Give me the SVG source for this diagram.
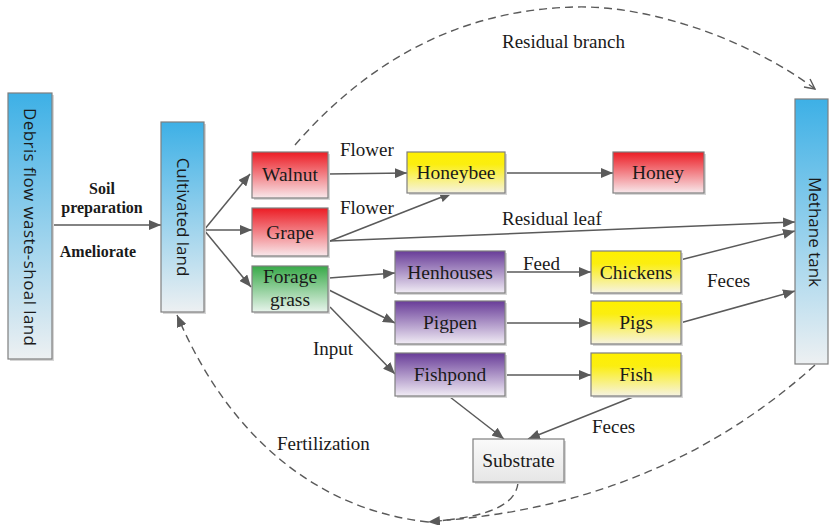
<svg xmlns="http://www.w3.org/2000/svg" width="829" height="525" viewBox="0 0 829 525">
  <style>
    .box { stroke: #7f7f7f; stroke-width: 1.2; }
    .sh { fill: #d6d6d6; }
    .lbl { font-size: 19.5px; fill: #1a1a1a; text-anchor: middle; }
    .note { font-size: 19px; fill: #1a1a1a; }
    .bold { font-size: 16px; font-weight: bold; fill: #1a1a1a; text-anchor: middle; }
    .vert { font-size: 17px; fill: #1a1a1a; text-anchor: middle; dominant-baseline: central; }
    .link { fill: none; stroke: #5a5a5a; stroke-width: 1.5; marker-end: url(#arr); }
    .dash { fill: none; stroke: #5a5a5a; stroke-width: 1.4; stroke-dasharray: 8 5; }
  </style>
  <defs>
    <linearGradient id="gBlue" x1="0" y1="0" x2="0" y2="1">
      <stop offset="0" stop-color="#3db0e6"/>
      <stop offset="1" stop-color="#edf0f2"/>
    </linearGradient>
    <linearGradient id="gRed" x1="0" y1="0" x2="0" y2="1">
      <stop offset="0" stop-color="#ec1c24"/>
      <stop offset="1" stop-color="#f8e8eb"/>
    </linearGradient>
    <linearGradient id="gYellow" x1="0" y1="0" x2="0" y2="1">
      <stop offset="0" stop-color="#fff000"/>
      <stop offset="0.3" stop-color="#fbee10"/>
      <stop offset="1" stop-color="#f6f3e2"/>
    </linearGradient>
    <linearGradient id="gPurple" x1="0" y1="0" x2="0" y2="1">
      <stop offset="0" stop-color="#683c98"/>
      <stop offset="1" stop-color="#f1ecf5"/>
    </linearGradient>
    <linearGradient id="gGreen" x1="0" y1="0" x2="0" y2="1">
      <stop offset="0" stop-color="#38a948"/>
      <stop offset="1" stop-color="#e8f4ec"/>
    </linearGradient>
    <linearGradient id="gGray" x1="0" y1="0" x2="0" y2="1">
      <stop offset="0" stop-color="#fafafa"/>
      <stop offset="1" stop-color="#e6e6e6"/>
    </linearGradient>
    <marker id="arr" viewBox="0 0 12 10" refX="12" refY="5" markerWidth="12" markerHeight="10" markerUnits="userSpaceOnUse" orient="auto">
      <path d="M0,0 L12,5 L0,10 z" fill="#5a5a5a"/>
    </marker>
    <marker id="open" viewBox="0 0 12 12" refX="11" refY="6" markerWidth="12" markerHeight="12" markerUnits="userSpaceOnUse" orient="auto">
      <path d="M1,1 L11,6 L1,11" fill="none" stroke="#5a5a5a" stroke-width="1.4"/>
    </marker>
  </defs>

  <!-- connectors -->
  <g id="connectors">
    <line class="link" x1="52" y1="225" x2="161" y2="225"/>
    <line class="link" x1="204" y1="230" x2="250" y2="174"/>
    <line class="link" x1="204" y1="230" x2="252" y2="230"/>
    <line class="link" x1="204" y1="230" x2="251" y2="287"/>
    <line class="link" x1="328" y1="174" x2="407" y2="173"/>
    <line class="link" x1="330" y1="241" x2="452" y2="193"/>
    <line class="link" x1="330" y1="241" x2="795" y2="222"/>
    <line class="link" x1="505" y1="173" x2="613" y2="173"/>
    <line class="link" x1="329" y1="278" x2="395" y2="273"/>
    <line class="link" x1="329" y1="290" x2="395" y2="323"/>
    <line class="link" x1="330" y1="307" x2="395" y2="374"/>
    <line class="link" x1="505" y1="272" x2="591" y2="272"/>
    <line class="link" x1="505" y1="323" x2="591" y2="323"/>
    <line class="link" x1="505" y1="375" x2="591" y2="375"/>
    <line class="link" x1="680" y1="260" x2="795" y2="231"/>
    <line class="link" x1="680" y1="323" x2="795" y2="291"/>
    <line class="link" x1="450" y1="397" x2="504" y2="439"/>
    <line class="link" x1="633" y1="397" x2="528" y2="439"/>

    <!-- residual branch arc -->
    <path class="dash" marker-end="url(#open)" d="M295,145 C360,70 450,10 575,7 C650,5 750,40 815,89"/>
    <!-- fertilization return paths -->
    <path class="dash" d="M815,365 Q660,505 436,521"/>
    <path class="dash" marker-end="url(#arr)" d="M518,483 C515,510 475,518 428,522"/>
    <path class="dash" marker-end="url(#arr)" d="M428,522 C320,510 230,440 177,315"/>
  </g>

  <!-- labels on connectors -->
  <g id="edge-labels" font-family="Liberation Serif, Times New Roman, serif">
    <text class="bold" x="102" y="194">Soil</text>
    <text class="bold" x="102" y="213">preparation</text>
    <text class="bold" x="98" y="257">Ameliorate</text>
    <text class="note" x="340" y="156">Flower</text>
    <text class="note" x="340" y="214">Flower</text>
    <text class="note" x="502" y="225">Residual leaf</text>
    <text class="note" x="502" y="48">Residual branch</text>
    <text class="note" x="523" y="270">Feed</text>
    <text class="note" x="707" y="287">Feces</text>
    <text class="note" x="592" y="433">Feces</text>
    <text class="note" x="313" y="355">Input</text>
    <text class="note" x="277" y="450">Fertilization</text>
  </g>

  <!-- nodes -->
  <g id="nodes" font-family="Liberation Serif, Times New Roman, serif">
    <g id="debris-land">
      <rect class="sh" x="10" y="95" width="44" height="266"/>
      <rect class="box" x="8" y="93" width="44" height="266" fill="url(#gBlue)"/>
      <text class="vert" font-family="Open Sans, Noto Sans, sans-serif" transform="translate(30,227) rotate(90)" textLength="238" lengthAdjust="spacing">Debris flow waste-shoal land</text>
    </g>
    <g id="cultivated-land">
      <rect class="sh" x="163" y="124" width="43" height="190"/>
      <rect class="box" x="161" y="122" width="43" height="190" fill="url(#gBlue)"/>
      <text class="vert" font-family="Open Sans, Noto Sans, sans-serif" transform="translate(183,217) rotate(90)">Cultivated land</text>
    </g>
    <g id="walnut">
      <rect class="sh" x="254" y="154" width="76" height="46"/>
      <rect class="box" x="252" y="152" width="76" height="46" fill="url(#gRed)"/>
      <text class="lbl" x="290" y="181">Walnut</text>
    </g>
    <g id="grape">
      <rect class="sh" x="254" y="210" width="76" height="48"/>
      <rect class="box" x="252" y="208" width="76" height="48" fill="url(#gRed)"/>
      <text class="lbl" x="290" y="239">Grape</text>
    </g>
    <g id="forage-grass">
      <rect class="sh" x="254" y="268" width="76" height="46"/>
      <rect class="box" x="252" y="266" width="76" height="46" fill="url(#gGreen)"/>
      <text class="lbl" x="290" y="283">Forage</text>
      <text class="lbl" x="290" y="306">grass</text>
    </g>
    <g id="honeybee">
      <rect class="sh" x="409" y="154" width="98" height="41"/>
      <rect class="box" x="407" y="152" width="98" height="41" fill="url(#gYellow)"/>
      <text class="lbl" x="456" y="179">Honeybee</text>
    </g>
    <g id="honey">
      <rect class="sh" x="615" y="154" width="91" height="41"/>
      <rect class="box" x="613" y="152" width="91" height="41" fill="url(#gRed)"/>
      <text class="lbl" x="658" y="179">Honey</text>
    </g>
    <g id="henhouses">
      <rect class="sh" x="397" y="253" width="110" height="42"/>
      <rect class="box" x="395" y="251" width="110" height="42" fill="url(#gPurple)"/>
      <text class="lbl" x="450" y="279">Henhouses</text>
    </g>
    <g id="pigpen">
      <rect class="sh" x="397" y="303" width="110" height="43"/>
      <rect class="box" x="395" y="301" width="110" height="43" fill="url(#gPurple)"/>
      <text class="lbl" x="450" y="329">Pigpen</text>
    </g>
    <g id="fishpond">
      <rect class="sh" x="397" y="355" width="110" height="43"/>
      <rect class="box" x="395" y="353" width="110" height="43" fill="url(#gPurple)"/>
      <text class="lbl" x="450" y="381">Fishpond</text>
    </g>
    <g id="chickens">
      <rect class="sh" x="593" y="253" width="90" height="42"/>
      <rect class="box" x="591" y="251" width="90" height="42" fill="url(#gYellow)"/>
      <text class="lbl" x="636" y="279">Chickens</text>
    </g>
    <g id="pigs">
      <rect class="sh" x="593" y="303" width="90" height="43"/>
      <rect class="box" x="591" y="301" width="90" height="43" fill="url(#gYellow)"/>
      <text class="lbl" x="636" y="329">Pigs</text>
    </g>
    <g id="fish">
      <rect class="sh" x="593" y="355" width="90" height="43"/>
      <rect class="box" x="591" y="353" width="90" height="43" fill="url(#gYellow)"/>
      <text class="lbl" x="636" y="381">Fish</text>
    </g>
    <g id="substrate">
      <rect class="sh" x="475" y="441" width="91" height="43"/>
      <rect class="box" x="473" y="439" width="91" height="43" fill="url(#gGray)"/>
      <text class="lbl" x="518.5" y="467">Substrate</text>
    </g>
    <g id="methane-tank">
      <rect class="box" x="795" y="99" width="33" height="265" fill="url(#gBlue)"/>
      <text class="vert" font-family="Open Sans, Noto Sans, sans-serif" transform="translate(815,232) rotate(90)">Methane tank</text>
    </g>
  </g>
</svg>
